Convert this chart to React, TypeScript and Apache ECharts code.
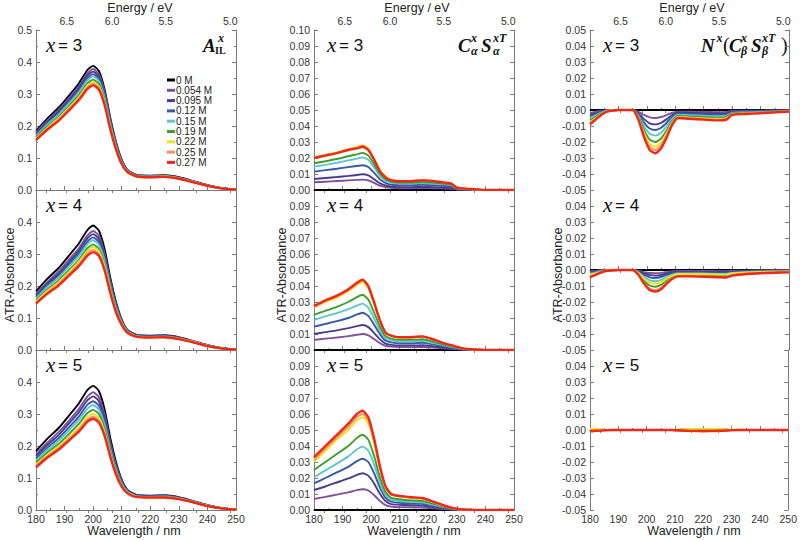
import React, { useEffect, useRef } from "react";
import * as echarts from "echarts";

const concentrations = ["0 M", "0.054 M", "0.095 M", "0.12 M", "0.15 M", "0.19 M", "0.22 M", "0.25 M", "0.27 M"];
const lineColors = ["#000000", "#80509a", "#4b3c8e", "#3559a8", "#5ec6cc", "#3d9e2c", "#ece21e", "#f29060", "#f0281a"];

// wavelength grids (nm)
const wavelengthIL = [180, 184, 188, 192, 195, 198, 200, 202, 204, 206, 208, 210, 212, 215, 220, 225, 230, 235, 240, 245, 250];
const wavelengthCS = [180, 184, 188, 192, 195, 197, 199, 201, 203, 205, 207, 210, 214, 218, 222, 226, 228, 230, 232, 236, 240, 250];
const wavelengthN = [180, 182, 184, 186, 190, 195, 197, 199, 201, 203, 205, 207, 209, 211, 215, 220, 225, 228, 230, 235, 240, 245, 250];

// top energy axis tick labels (eV)
const energyMajor = [6.5, 6.0, 5.5, 5.0];
const energyMinor = [6.75, 6.25, 5.75, 5.25];

// Column 1: A_IL^x
const ilX3 = [
  [.185, .224, .258, .300, .333, .375, .388, .372, .315, .225, .150, .095, .063, .048, .045, .046, .040, .028, .015, .006, .001],
  [.180, .218, .251, .292, .324, .365, .378, .362, .307, .219, .146, .093, .062, .047, .044, .045, .039, .027, .015, .006, .001],
  [.176, .214, .246, .286, .318, .358, .370, .355, .301, .215, .143, .091, .061, .046, .043, .044, .038, .027, .014, .006, .001],
  [.172, .209, .241, .280, .311, .350, .362, .347, .294, .210, .140, .089, .060, .046, .043, .044, .038, .026, .014, .005, .001],
  [.169, .205, .236, .275, .305, .343, .355, .340, .288, .206, .137, .087, .059, .045, .042, .043, .037, .026, .014, .005, .001],
  [.165, .199, .229, .267, .296, .333, .345, .331, .280, .200, .133, .085, .058, .044, .041, .042, .036, .025, .013, .005, .001],
  [.161, .195, .225, .261, .290, .327, .338, .324, .274, .196, .131, .083, .057, .044, .041, .042, .036, .025, .013, .005, .001],
  [.158, .192, .221, .257, .285, .321, .332, .318, .270, .193, .128, .082, .056, .043, .040, .041, .035, .025, .013, .005, .001],
  [.156, .189, .217, .253, .281, .316, .327, .314, .266, .190, .127, .081, .056, .043, .040, .041, .035, .024, .013, .005, .001],
];
const ilX4 = [
  [.183, .223, .257, .300, .333, .375, .389, .373, .316, .226, .150, .095, .063, .048, .045, .046, .040, .028, .015, .006, .001],
  [.175, .213, .246, .287, .318, .358, .372, .357, .302, .216, .144, .092, .061, .047, .044, .045, .039, .027, .015, .006, .001],
  [.170, .208, .239, .279, .310, .349, .362, .347, .294, .210, .140, .090, .060, .046, .043, .044, .038, .027, .014, .006, .001],
  [.166, .202, .233, .272, .301, .339, .352, .338, .286, .205, .136, .088, .059, .045, .042, .043, .037, .026, .014, .005, .001],
  [.161, .197, .227, .265, .294, .331, .343, .329, .279, .199, .132, .086, .058, .044, .041, .042, .036, .026, .014, .005, .001],
  [.155, .189, .218, .254, .282, .318, .330, .316, .268, .192, .127, .083, .057, .043, .041, .041, .036, .025, .013, .005, .001],
  [.152, .185, .213, .248, .276, .310, .322, .309, .262, .187, .124, .081, .056, .043, .040, .041, .035, .025, .013, .005, .001],
  [.148, .180, .207, .242, .268, .302, .313, .300, .254, .182, .121, .079, .055, .042, .040, .040, .035, .024, .013, .005, .001],
  [.145, .176, .202, .236, .262, .295, .306, .294, .249, .178, .118, .078, .054, .042, .039, .040, .034, .024, .012, .005, .001],
];
const ilX5 = [
  [.184, .223, .257, .300, .333, .375, .388, .372, .315, .225, .150, .095, .063, .048, .045, .046, .040, .028, .015, .006, .001],
  [.174, .211, .244, .284, .316, .355, .368, .353, .299, .213, .142, .091, .061, .047, .044, .045, .039, .027, .015, .006, .001],
  [.168, .204, .235, .275, .305, .343, .355, .340, .288, .206, .137, .088, .060, .046, .043, .044, .038, .027, .014, .006, .001],
  [.161, .195, .225, .263, .292, .329, .340, .326, .276, .197, .131, .085, .058, .045, .042, .043, .037, .026, .014, .005, .001],
  [.155, .188, .217, .254, .281, .317, .328, .314, .266, .190, .127, .082, .057, .044, .041, .042, .036, .026, .014, .005, .001],
  [.148, .180, .207, .242, .269, .303, .313, .300, .254, .182, .121, .079, .055, .043, .040, .041, .035, .025, .013, .005, .001],
  [.142, .173, .199, .232, .257, .290, .300, .288, .244, .174, .116, .076, .054, .042, .040, .040, .035, .024, .013, .005, .001],
  [.138, .168, .194, .226, .251, .282, .292, .280, .237, .170, .113, .074, .053, .042, .039, .040, .034, .024, .012, .005, .001],
  [.133, .164, .189, .221, .245, .276, .285, .273, .232, .166, .111, .073, .052, .041, .039, .039, .034, .024, .012, .005, .001],
];

// Column 2: C_alpha^x S_alpha^xT
const csX3 = [
  [0, 0, 0, 0, 0, 0, 0, 0, 0, 0, 0, 0, 0, 0, 0, 0, 0, 0, 0, 0, 0, 0],
  [.0048, .0052, .0056, .006, .0063, .0065, .006, .0045, .0028, .0018, .0013, .0011, .0011, .0012, .0011, .0009, .0008, .0003, .0002, .0001, 0, 0],
  [.0069, .0075, .0081, .0088, .0094, .0098, .0091, .0068, .0043, .0028, .002, .0018, .0018, .0019, .0018, .0015, .0013, .0005, .0003, .0001, 0, 0],
  [.0115, .0124, .0133, .0143, .015, .0155, .0144, .0108, .0068, .0045, .0033, .003, .003, .0032, .003, .0025, .0022, .0008, .0005, .0002, 0, 0],
  [.0146, .0157, .017, .0185, .0196, .0204, .0189, .0143, .009, .006, .0045, .0041, .0041, .0044, .0041, .0034, .003, .0011, .0007, .0003, 0, 0],
  [.0167, .018, .0194, .0211, .0223, .0232, .0215, .0163, .0103, .0069, .0052, .0047, .0047, .005, .0047, .0039, .0034, .0013, .0008, .0004, 0, 0],
  [.0205, .022, .0236, .0256, .0269, .028, .026, .0197, .0125, .0083, .0062, .0057, .0057, .0062, .0057, .0047, .0041, .0016, .001, .0005, 0, 0],
  [.0202, .0217, .0232, .0252, .0264, .0275, .0255, .0194, .0122, .0082, .0061, .0056, .0056, .0061, .0056, .0046, .0041, .0015, .001, .0005, 0, 0],
  [.020, .0215, .023, .025, .026, .027, .025, .019, .012, .008, .006, .0055, .0055, .006, .0055, .0045, .004, .0015, .001, .0005, 0, 0],
];
const csX4 = [
  [0, 0, 0, 0, 0, 0, 0, 0, 0, 0, 0, 0, 0, 0, 0, 0, 0, 0, 0, 0, 0, 0],
  [.0063, .0071, .0078, .0087, .0095, .010, .0092, .0069, .0044, .0026, .0021, .0018, .0018, .0019, .0015, .0009, .0007, .0005, .0002, 0, 0, 0],
  [.010, .0112, .0123, .0137, .0149, .0156, .0143, .0107, .0068, .004, .0032, .0028, .0028, .003, .0023, .0014, .0011, .0007, .0004, .0001, 0, 0],
  [.0146, .0163, .018, .020, .0222, .0233, .0213, .0159, .0101, .0059, .0048, .0042, .0042, .0045, .0034, .0021, .0016, .0011, .0005, .0001, 0, 0],
  [.0188, .021, .023, .0255, .0278, .029, .0265, .0198, .0126, .0074, .006, .0053, .0053, .0056, .0043, .0027, .002, .0013, .0007, .0002, 0, 0],
  [.022, .0245, .027, .030, .033, .0345, .0315, .0235, .015, .0088, .0071, .0063, .0063, .0067, .0051, .0032, .0024, .0016, .0008, .0002, 0, 0],
  [.0265, .030, .0328, .0367, .0405, .0425, .0386, .029, .0183, .0106, .0087, .0077, .0077, .0082, .0063, .0039, .0029, .0019, .001, .0003, 0, 0],
  [.027, .0306, .0335, .0374, .0414, .0435, .0395, .0296, .0188, .0109, .0089, .0079, .0079, .0084, .0064, .004, .003, .002, .001, .0003, 0, 0],
  [.0275, .031, .034, .038, .042, .044, .040, .030, .019, .011, .009, .008, .008, .0085, .0065, .004, .003, .002, .001, .0003, 0, 0],
];
const csX5 = [
  [0, 0, 0, 0, 0, 0, 0, 0, 0, 0, 0, 0, 0, 0, 0, 0, 0, 0, 0, 0, 0, 0],
  [.0069, .0082, .0096, .011, .0124, .013, .0122, .0094, .0058, .0031, .0021, .0018, .0017, .0016, .0011, .0005, .0003, .0002, .0001, 0, 0, 0],
  [.0125, .0147, .0172, .0197, .022, .023, .0215, .0167, .0103, .0056, .0037, .0033, .003, .0028, .0019, .0009, .0006, .0003, .0001, 0, 0, 0],
  [.0167, .020, .0235, .027, .0305, .032, .030, .0232, .0143, .0077, .0052, .0045, .0041, .0039, .0026, .0013, .0008, .0004, .0002, 0, 0, 0],
  [.0205, .0248, .029, .0335, .0378, .0396, .037, .0287, .0177, .0096, .0064, .0056, .0051, .0048, .0032, .0016, .001, .0005, .0002, 0, 0, 0],
  [.025, .030, .035, .040, .045, .047, .044, .034, .021, .0114, .0076, .0067, .006, .0057, .0038, .0019, .0011, .0006, .0002, 0, 0, 0],
  [.030, .037, .044, .050, .056, .058, .054, .042, .026, .014, .0094, .0083, .0075, .007, .0047, .0023, .0014, .0007, .0003, 0, 0, 0],
  [.0315, .0385, .0455, .052, .058, .060, .056, .0435, .027, .0145, .0097, .0085, .0078, .0073, .0048, .0024, .0015, .0008, .0003, 0, 0, 0],
  [.033, .040, .047, .054, .060, .062, .058, .045, .028, .015, .010, .0088, .008, .0075, .005, .0025, .0015, .0008, .0003, 0, 0, 0],
];

// Column 3: N^x (C_beta^x S_beta^xT)
const nX3 = [
  [0, 0, 0, 0, 0, 0, 0, 0, 0, 0, 0, 0, 0, 0, 0, 0, 0, 0, 0, 0, 0, 0, 0],
  [-.002, -.001, -.0005, 0, 0, 0, -.0011, -.0031, -.0046, -.005, -.0044, -.0031, -.0017, -.001, -.001, -.0012, -.0013, -.0012, -.0006, -.0005, -.0004, -.0003, -.0002],
  [-.003, -.002, -.001, -.0003, 0, 0, -.002, -.0057, -.0083, -.009, -.008, -.0057, -.003, -.0017, -.0018, -.002, -.0022, -.002, -.001, -.0008, -.0007, -.0005, -.0003],
  [-.004, -.0027, -.0013, -.0004, 0, 0, -.0028, -.0079, -.0116, -.0125, -.0111, -.0079, -.0042, -.0023, -.0025, -.0028, -.003, -.0028, -.0014, -.0012, -.0009, -.0007, -.0005],
  [-.005, -.0034, -.0017, -.0005, 0, 0, -.0036, -.0101, -.0148, -.016, -.0142, -.0101, -.0053, -.003, -.0032, -.0036, -.0039, -.0036, -.0018, -.0015, -.0012, -.0009, -.0006],
  [-.0065, -.0043, -.0022, -.0007, 0, 0, -.0044, -.0126, -.0185, -.020, -.0178, -.0126, -.0067, -.0037, -.0041, -.0044, -.0048, -.0044, -.0022, -.0018, -.0015, -.0011, -.0007],
  [-.0075, -.005, -.0025, -.0008, 0, 0, -.0051, -.0145, -.0213, -.023, -.0204, -.0145, -.0077, -.0043, -.0047, -.0051, -.0055, -.0051, -.0026, -.0021, -.0017, -.0013, -.0009],
  [-.0083, -.0055, -.0028, -.0009, 0, 0, -.0056, -.0157, -.0231, -.025, -.0222, -.0157, -.0083, -.0046, -.0051, -.0056, -.006, -.0056, -.0028, -.0023, -.0019, -.0014, -.0009],
  [-.009, -.006, -.003, -.001, 0, 0, -.006, -.017, -.025, -.027, -.024, -.017, -.009, -.005, -.0055, -.006, -.0065, -.006, -.003, -.0025, -.002, -.0015, -.001],
];
const nX4 = [
  [0, 0, 0, 0, 0, 0, 0, 0, 0, 0, 0, 0, 0, 0, 0, 0, 0, 0, 0, 0, 0, 0, 0],
  [-.0008, -.0005, -.0002, 0, 0, 0, -.0004, -.0013, -.0019, -.002, -.0018, -.0013, -.0008, -.0006, -.0006, -.0006, -.0007, -.0007, -.0005, -.0004, -.0003, -.0002, -.0002],
  [-.0013, -.0008, -.0004, -.0001, 0, 0, -.0008, -.0022, -.0032, -.0035, -.0031, -.0022, -.0014, -.001, -.001, -.0011, -.0012, -.0012, -.0009, -.0007, -.0005, -.0004, -.0004],
  [-.0019, -.0012, -.0006, -.0002, 0, 0, -.0011, -.0031, -.0046, -.005, -.0044, -.0031, -.002, -.0015, -.0015, -.0016, -.0017, -.0017, -.0013, -.0009, -.0007, -.0006, -.0006],
  [-.0025, -.0016, -.0008, -.0002, 0, 0, -.0016, -.0044, -.0065, -.007, -.0062, -.0044, -.0029, -.0021, -.0021, -.0022, -.0024, -.0024, -.0018, -.0013, -.001, -.0009, -.0008],
  [-.0036, -.0024, -.0012, -.0004, 0, 0, -.0023, -.0066, -.0097, -.0105, -.0093, -.0066, -.0043, -.0031, -.0031, -.0033, -.0035, -.0036, -.0027, -.002, -.0016, -.0013, -.0012],
  [-.0032, -.0021, -.001, -.0003, 0, 0, -.0019, -.0054, -.0079, -.0085, -.0076, -.0054, -.0035, -.0025, -.0025, -.0026, -.0028, -.0029, -.0022, -.0016, -.0012, -.0011, -.0009],
  [-.0043, -.0028, -.0014, -.0005, 0, 0, -.0028, -.0079, -.0116, -.0125, -.0111, -.0079, -.0051, -.0037, -.0037, -.0039, -.0042, -.0043, -.0032, -.0023, -.0018, -.0016, -.0014],
  [-.0046, -.003, -.0015, -.0005, 0, 0, -.003, -.0085, -.0125, -.0135, -.012, -.0085, -.0055, -.004, -.004, -.0042, -.0045, -.0047, -.0035, -.0025, -.002, -.0017, -.0015],
];
const nX5 = [
  [0, 0, 0, 0, 0, 0, 0, 0, 0, 0, 0, 0, 0, 0, 0, 0, 0, 0, 0, 0, 0, 0, 0],
  [.0002, .0001, 0, 0, 0, 0, 0, 0, 0, 0, 0, 0, 0, 0, .0002, .0002, .0002, .0001, 0, 0, 0, 0, 0],
  [-.0005, -.0003, -.0002, 0, 0, 0, 0, 0, 0, 0, 0, 0, 0, -.0002, -.0005, -.0006, -.0005, -.0003, 0, 0, 0, 0, 0],
  [-.0003, -.0002, -.0001, 0, 0, 0, 0, 0, 0, 0, 0, 0, 0, -.0001, -.0003, -.0004, -.0003, -.0002, 0, 0, 0, 0, 0],
  [.0003, .0002, .0001, 0, 0, 0, 0, 0, 0, 0, 0, 0, 0, .0001, .0003, .0004, .0003, .0002, 0, 0, 0, 0, 0],
  [.0006, .0004, .0002, 0, 0, 0, 0, 0, 0, 0, 0, 0, 0, .0002, .0005, .0007, .0006, .0003, .0001, 0, 0, 0, 0],
  [.0008, .0006, .0003, .0001, 0, 0, 0, 0, 0, 0, 0, 0, 0, .0002, .0006, .0008, .0007, .0004, .0002, .0001, 0, 0, 0],
  [-.001, -.0007, -.0004, -.0002, 0, 0, 0, 0, 0, 0, 0, 0, 0, -.0003, -.0007, -.0009, -.0008, -.0005, -.0002, 0, 0, 0, 0],
  [-.0008, -.0005, -.0003, -.0001, 0, 0, 0, 0, 0, 0, 0, 0, 0, -.0002, -.0005, -.0006, -.0005, -.0003, -.0001, 0, 0, 0, 0],
];

const xValues = [3, 4, 5];

const SANS = "'Liberation Sans', Arial, sans-serif";
const SERIF = "'Liberation Serif', 'Times New Roman', serif";
const AXIS_COLOR = "#7a7a7a";
const LABEL_COLOR = "#333";
const HC = 1239.84;

export default function App() {
  const ref = useRef<HTMLDivElement>(null);

  useEffect(() => {
    document.body.style.margin = "0";
    const chart = echarts.init(ref.current!, null, { renderer: "svg" });

    const colLeft = [36, 314, 590];
    const colWidth = [200, 200, 199];
    const rowTop = [30, 190, 350];
    const rowHeight = 160;
    const yCfg = [
      { min: 0, max: 0.5, interval: 0.1, dec: 1, minor: true },
      { min: 0, max: 0.1, interval: 0.01, dec: 2, minor: false },
      { min: -0.05, max: 0.05, interval: 0.01, dec: 2, minor: false },
    ];
    const panelData = [[ilX3, ilX4, ilX5], [csX3, csX4, csX5], [nX3, nX4, nX5]];
    const wls = [wavelengthIL, wavelengthCS, wavelengthN];

    const grids: any[] = [];
    const xAxes: any[] = [];
    const yAxes: any[] = [];
    const series: any[] = [];
    const lineStyle = { color: AXIS_COLOR, width: 1 };

    for (let c = 0; c < 3; c++) {
      for (let r = 0; r < 3; r++) {
        const g = grids.length;
        grids.push({ left: colLeft[c], top: rowTop[r], width: colWidth[c], height: rowHeight, containLabel: false });
        xAxes.push({
          type: "value", gridIndex: g, min: 180, max: 250, interval: 10, position: "bottom",
          axisLine: { show: true, lineStyle },
          axisTick: { show: true, inside: true, length: 4, lineStyle },
          minorTick: { show: true, splitNumber: 2, length: 2, lineStyle },
          splitLine: { show: false },
          axisLabel: { show: r === 2, fontSize: 10.5, fontFamily: SANS, color: LABEL_COLOR, margin: 3 },
        });
        xAxes.push({
          type: "value", gridIndex: g, min: 180, max: 250, position: "top",
          axisLine: { show: true, lineStyle },
          axisTick: { show: true, inside: true, length: 3, lineStyle, customValues: [...energyMajor, ...energyMinor].map((e) => HC / e) },
          splitLine: { show: false },
          axisLabel: {
            show: r === 0, fontSize: 10.5, fontFamily: SANS, color: LABEL_COLOR, margin: 4,
            customValues: energyMajor.map((e) => HC / e),
            formatter: (v: number) => (HC / v).toFixed(1),
          },
        });
        const yc = yCfg[c];
        const fmt = (v: number) => (Math.abs(v) < 1e-9 ? 0 : v).toFixed(yc.dec);
        yAxes.push({
          type: "value", gridIndex: g, min: yc.min, max: yc.max, interval: yc.interval, position: "left",
          axisLine: { show: true, lineStyle },
          axisTick: { show: true, inside: true, length: 4, lineStyle },
          minorTick: { show: yc.minor, splitNumber: 2, length: 2, lineStyle },
          splitLine: { show: false },
          axisLabel: { fontSize: 10.5, fontFamily: SANS, color: LABEL_COLOR, margin: 4, formatter: fmt, showMaxLabel: r === 0, showMinLabel: true },
        });
        yAxes.push({
          type: "value", gridIndex: g, min: yc.min, max: yc.max, interval: yc.interval, position: "right",
          axisLine: { show: true, lineStyle },
          axisTick: { show: true, inside: true, length: 4, lineStyle },
          minorTick: { show: yc.minor, splitNumber: 2, length: 2, lineStyle },
          splitLine: { show: false },
          axisLabel: { show: false },
        });
        const data = panelData[c][r];
        const wl = wls[c];
        for (let i = 0; i < data.length; i++) {
          series.push({
            type: "line",
            name: concentrations[i],
            xAxisIndex: 2 * g,
            yAxisIndex: 2 * g,
            data: wl.map((w, k) => [w, data[i][k]]),
            symbol: "none",
            showSymbol: false,
            smooth: 0.2,
            silent: true,
            z: 2 + i,
            lineStyle: { color: lineColors[i], width: i === 8 ? 2.4 : 1.9 },
            itemStyle: { color: lineColors[i] },
          });
        }
      }
    }

    const txt = (x: number, y: number, text: string, style: any, extra: any = {}) => ({
      type: "text", x, y, silent: true, ...extra,
      style: { text, fill: "#111", align: "left", verticalAlign: "middle", ...style },
    });
    const big = { fontFamily: SERIF, fontStyle: "italic", fontWeight: "bold", fontSize: 19 };
    const small = { fontFamily: SERIF, fontStyle: "italic", fontWeight: "bold", fontSize: 12 };
    const graphics: any[] = [];
    const colCenterTitle = [140, 417, 692];
    const colCenterBottom = [134, 414, 694];
    const yNameX = [10, 282, 558];
    const xLabelX = [46, 327, 603];
    for (let c = 0; c < 3; c++) {
      graphics.push(txt(colCenterTitle[c], 8, "Energy / eV", { fontFamily: SANS, fontSize: 12.5, fill: "#222", align: "center" }));
      graphics.push(txt(colCenterBottom[c], 531, "Wavelength / nm", { fontFamily: SANS, fontSize: 12.5, fill: "#222", align: "center" }));
      graphics.push(txt(yNameX[c], 275, "ATR-Absorbance", { fontFamily: SANS, fontSize: 12.5, fill: "#222", align: "center" }, { rotation: Math.PI / 2 }));
      for (let r = 0; r < 3; r++) {
        const y = 45 + 160 * r;
        graphics.push(txt(xLabelX[c], y, "x", { fontFamily: SERIF, fontStyle: "italic", fontSize: 21 }));
        graphics.push(txt(xLabelX[c] + 12, y, "= " + xValues[r], { fontFamily: SANS, fontSize: 17 }));
      }
    }
    // A_IL^x
    graphics.push(txt(203, 45, "A", big));
    graphics.push(txt(218, 38, "x", small));
    graphics.push(txt(215, 50, "IL", { fontFamily: SERIF, fontWeight: "bold", fontSize: 10 }));
    // C_a^x S_a^xT
    graphics.push(txt(458, 45, "C", big));
    graphics.push(txt(471, 38, "x", small));
    graphics.push(txt(471, 51, "α", small));
    graphics.push(txt(481, 45, "S", big));
    graphics.push(txt(493, 38, "xT", small));
    graphics.push(txt(493, 51, "α", small));
    // N^x(C_b^x S_b^xT)
    graphics.push(txt(701, 45, "N", big));
    graphics.push(txt(716.5, 38, "x", small));
    graphics.push(txt(723, 45, "(", { fontFamily: SERIF, fontSize: 20 }));
    graphics.push(txt(729, 45, "C", big));
    graphics.push(txt(741, 38, "x", small));
    graphics.push(txt(741, 51, "β", small));
    graphics.push(txt(751, 45, "S", big));
    graphics.push(txt(762, 38, "xT", small));
    graphics.push(txt(762, 51, "β", small));
    graphics.push(txt(781, 45, ")", { fontFamily: SERIF, fontSize: 20 }));

    chart.setOption({
      animation: false,
      backgroundColor: "#ffffff",
      grid: grids,
      xAxis: xAxes,
      yAxis: yAxes,
      series,
      legend: {
        data: concentrations,
        orient: "vertical",
        left: 167,
        top: 75,
        padding: 0,
        itemWidth: 8,
        itemHeight: 3,
        itemGap: 0.3,
        icon: "rect",
        selectedMode: false,
        textStyle: { fontSize: 10, fontFamily: SANS, color: "#222", padding: [0, 0, 0, -4] },
      },
      graphic: graphics,
    });

    return () => chart.dispose();
  }, []);

  return <div ref={ref} style={{ width: 800, height: 540 }} />;
}
